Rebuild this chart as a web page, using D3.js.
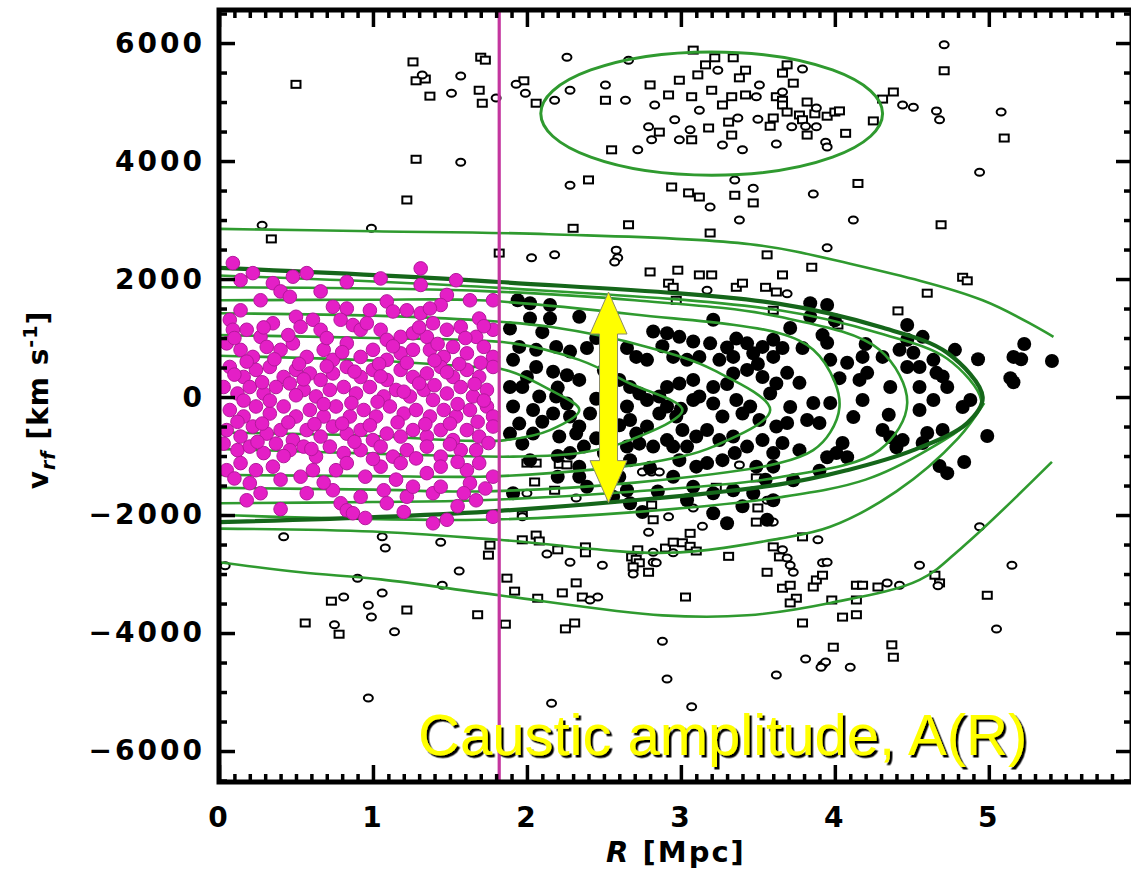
<!DOCTYPE html>
<html>
<head>
<meta charset="utf-8">
<script src="https://cdn.jsdelivr.net/npm/d3@7"></script>
<style>
  html, body { margin: 0; padding: 0; background: #fff; }
  svg { display: block; }
  .tick text { font-family: "DejaVu Sans", sans-serif; font-weight: bold; font-size: 28px; letter-spacing: 3px; fill: #000; }
  .tick line { stroke: #000; stroke-width: 3.5px; }
  .domain { display: none; }
</style>
</head>
<body>
<div id="chart"></div>
<script>
// ---- tick labels ----
const xTicks = [0, 1, 2, 3, 4, 5];
const yTicks = [-6000, -4000, -2000, 0, 2000, 4000, 6000];

// ---- annotations ----
const splitR = 1.82;                 // magenta vertical line
const arrowR = 2.53;                 // yellow double arrow position
const arrowV = [1780, -1790];
const labelText = 'Caustic amplitude, A(R)';
const ellipseCenter = [3.2, 4805];
const ellipseRadii = [1.11, 1045];

// ---- caustic curves [R, v] ----
const outerUpper = [[0,2850],[1.0,2810],[2.14,2760],[3.45,2590],[4.08,2270],[4.96,1640],[5.42,1020]];
const outerLower = [[0,-2800],[0.53,-2970],[1.05,-3090],[1.82,-3360],[2.88,-3700],[3.43,-3700],[3.97,-3490],[4.55,-3100],[4.83,-2540],[5.41,-1100]];
const causticThick = [[0,2190],[1.82,1950],[3.64,1580],[4.29,1190],[4.73,750],[4.96,0],[4.86,-440],[4.51,-900],[4.08,-1240],[3.64,-1480],[1.82,-1930],[0,-2120]];

// ---- density contours [R, v] ----
const contour1 = [[0,700],[1.0,620],[1.6,520],[1.86,460],[2.15,120],[2.34,-220],[2.15,-560],[1.86,-730],[1.6,-740],[1.0,-660],[0,-600]];
const contour2 = [[0,1050],[1.0,1000],[1.91,910],[2.34,630],[2.67,230],[3.01,-220],[2.67,-730],[2.34,-950],[1.91,-1010],[1.0,-960],[0,-880]];
const contour3 = [[0,1420],[1.0,1380],[1.69,1300],[2.15,1190],[2.78,850],[3.21,460],[3.58,-220],[3.21,-840],[2.78,-1120],[2.15,-1290],[1.69,-1350],[1.0,-1340],[0,-1320]];
const contour4 = [[0,1640],[1.0,1650],[1.69,1640],[2.7,1400],[3.64,1080],[3.86,800],[4.0,250],[4.03,-170],[3.97,-600],[3.86,-900],[3.64,-1120],[2.7,-1450],[1.69,-1600],[1.0,-1570],[0,-1540]];
const contour5 = [[0,1860],[1.0,1840],[1.69,1800],[2.7,1640],[3.64,1360],[4.29,800],[4.47,-100],[4.29,-900],[3.64,-1360],[2.7,-1600],[1.69,-1750],[1.0,-1780],[0,-1800]];
const contour6 = [[0,2060],[1.82,1850],[3.64,1470],[4.29,1080],[4.73,650],[4.95,-50],[4.9,-350],[4.6,-900],[4.2,-1400],[3.64,-1700],[2.7,-1950],[1.69,-2080],[0,-2000]];
const contour7 = [[0,-2230],[1.0,-2280],[1.82,-2420],[2.91,-2640],[3.64,-2400],[3.97,-2200],[4.4,-1600],[4.8,-700],[4.97,-100]];

// ---- members inside R < splitR (magenta) ----
const magentaPts = [
  [0.09,2270],[0.22,2100],[0.14,1980],[0.48,2040],[0.57,2100],[0.83,1950],[1.05,2010],[1.31,2180],[1.31,1900],[1.54,1980],[1.78,1640],[1.63,1640],[1.48,1730],[1.44,1560],[1.69,1330],
  [0.35,1930],[0.40,1790],[0.46,1700],[0.27,1640],[0.66,1790],[0.74,1530],[0.83,1500],[0.98,1470],[1.09,1620],[1.13,1450],[1.22,1470],[1.31,1420],[1.37,1500],
  [0.14,1470],[0.07,1310],[0.09,1140],[0.18,1140],[0.27,1020],[0.35,1250],[0.50,1360],[0.53,1190],[0.61,1310],[0.66,1140],[0.79,1310],[0.87,1220],[0.92,1140],[1.05,1140],[1.09,970],[1.18,1020],[1.26,1080],[1.35,1020],[1.39,1250],[1.48,1140],[1.57,1190],[1.67,1020],[1.78,1140],
  [0.05,910],[0.14,800],[0.22,680],[0.31,850],[0.40,800],[0.48,910],[0.57,680],[0.68,800],[0.74,630],[0.83,910],[0.92,680],[1.00,800],[1.09,630],[1.18,740],[1.26,800],[1.37,800],[1.46,680],[1.52,850],[1.61,740],[1.72,850],[1.78,680],
  [0.07,510],[0.16,340],[0.24,460],[0.33,510],[0.42,340],[0.50,460],[0.59,400],[0.66,290],[0.74,400],[0.83,510],[0.92,340],[1.00,460],[1.09,290],[1.18,460],[1.26,340],[1.35,400],[1.44,510],[1.52,340],[1.61,460],[1.69,340],[1.78,510],
  [0.03,170],[0.12,60],[0.20,170],[0.29,60],[0.37,170],[0.46,230],[0.55,120],[0.63,10],[0.72,120],[0.81,170],[0.89,60],[0.98,170],[1.07,10],[1.15,120],[1.24,10],[1.33,120],[1.39,-50],[1.48,60],[1.57,170],[1.65,10],[1.74,120],
  [0.07,-220],[0.16,-330],[0.24,-160],[0.33,-280],[0.42,-160],[0.50,-330],[0.59,-220],[0.68,-330],[0.76,-160],[0.85,-330],[0.94,-220],[1.02,-330],[1.11,-160],[1.20,-280],[1.28,-220],[1.37,-330],[1.46,-220],[1.54,-330],[1.63,-220],[1.74,-160],[1.78,-330],
  [0.05,-560],[0.14,-670],[0.22,-500],[0.31,-620],[0.40,-560],[0.48,-730],[0.57,-560],[0.66,-670],[0.74,-500],[0.83,-620],[0.92,-560],[1.00,-730],[1.09,-620],[1.18,-670],[1.26,-560],[1.35,-670],[1.44,-560],[1.52,-730],[1.61,-560],[1.69,-670],[1.78,-500],
  [0.03,-790],[0.12,-900],[0.20,-840],[0.29,-950],[0.37,-790],[0.46,-900],[0.55,-840],[0.63,-1010],[0.72,-840],[0.81,-950],[0.92,-900],[1.05,-840],[1.13,-1010],[1.22,-900],[1.35,-840],[1.44,-1010],[1.57,-900],[1.67,-900],
  [0.05,-1240],[0.14,-1120],[0.24,-1240],[0.35,-1180],[0.53,-1350],[0.61,-1240],[0.76,-1240],[0.83,-1120],[1.05,-1180],[1.18,-1120],[1.35,-1290],[1.44,-1180],[1.61,-1240],[1.69,-1120],[1.78,-1350],[1.63,-1460],
  [0.20,-1460],[0.27,-1630],[0.18,-1750],[0.57,-1630],[0.74,-1580],[0.79,-1800],[0.83,-1920],[0.92,-1690],[1.07,-1580],[1.09,-1800],[1.22,-1690],[1.26,-1520],[1.39,-1630],[1.44,-1520],[1.59,-1630],[1.67,-1750],
  [0.87,-1970],[1.39,-2140],[1.48,-2080],[1.78,-2030],
  [0.10,1000],[0.29,1180],[0.45,1050],[0.70,1000],[0.96,1250],[1.13,860],[1.30,1180],[1.42,900],[1.60,1000],[1.72,1200],
  [0.18,600],[0.36,640],[0.52,560],[0.80,760],[1.04,560],[1.22,580],[1.40,620],[1.56,560],[1.70,580],
  [0.10,380],[0.28,250],[0.55,300],[0.70,520],[0.88,430],[1.05,350],[1.30,230],[1.48,420],[1.66,220],
  [0.16,-60],[0.33,-60],[0.50,30],[0.68,-120],[0.86,-100],[1.03,-80],[1.20,90],[1.40,200],[1.55,-120],[1.72,-60],
  [0.12,-420],[0.28,-450],[0.45,-430],[0.62,-460],[0.80,-450],[0.98,-480],[1.16,-430],[1.34,-460],[1.50,-450],[1.68,-420],
  [0.25,-760],[0.42,-1000],[0.60,-880],[0.88,-760],[1.00,-1050],[1.28,-1040],[1.50,-800],[1.75,-780],
  [0.10,-1380],[0.40,-1400],[0.68,-1450],[0.95,-1350],[1.15,-1400],[1.55,-1100],[1.73,-1550],
  [0.40,-1900],[0.95,-2050],[1.20,-1950],[1.55,-1850]
];

// ---- members beyond splitR (filled black) ----
const blackPts = [
  [1.94,1640],[2.02,1590],[2.15,1560],[2.02,1330],[2.15,1330],[2.34,1360],[1.89,1160],[2.82,1110],[2.91,1080],[2.99,1020],[3.21,1310],[3.08,940],[3.19,910],[3.36,990],[3.43,910],[3.53,850],[3.60,970],
  [1.95,850],[2.06,800],[2.19,850],[2.28,770],[2.39,830],[2.65,830],[2.71,680],[2.78,630],[2.95,680],[3.04,630],[3.12,680],[3.25,630],[3.34,680],[3.47,740],[3.60,680],
  [1.91,630],[2.06,510],[2.17,430],[2.26,370],[2.34,290],[2.00,340],[2.60,290],[2.67,170],[2.73,60],[2.78,-50],[2.86,10],[2.91,170],[2.99,230],[3.08,290],[3.12,10],[3.21,170],[3.34,400],[3.43,460],[3.53,340],[3.62,230],
  [1.89,170],[1.97,170],[2.08,10],[2.19,10],[2.26,-110],[2.04,-220],[2.17,-280],[2.28,-330],[2.34,-500],[2.41,-280],[2.65,-160],[2.67,-390],[2.71,-620],[2.78,-500],[2.86,-280],[2.91,-160],[2.97,-330],[3.01,-560],[3.08,-50],[3.21,-110],[3.27,-330],[3.36,-50],[3.45,-160],[3.51,-390],[3.58,60],[3.62,-500],
  [1.91,-160],[1.95,-450],[1.89,-620],[1.97,-790],[2.04,-620],[2.21,-670],[2.32,-620],[2.37,-840],[2.28,-950],[2.65,-840],[2.73,-790],[2.82,-840],[2.91,-730],[2.95,-840],[3.04,-840],[3.10,-670],[3.17,-560],[3.25,-730],[3.34,-670],[3.43,-840],[3.53,-730],[3.60,-950],
  [2.02,-1070],[2.34,-1180],[2.67,-1070],[2.99,-1070],[3.10,-1180],[3.17,-1120],[3.27,-1070],[3.49,-1180],[3.60,-1180],[2.34,-1350],[2.39,-1520],[2.60,-1350],[2.65,-1580],[2.95,-1350],[3.08,-1520],[3.21,-1630],[3.34,-1580],[3.47,-1630],[1.91,-1630],[2.56,-1690],[2.67,-1800],[3.04,-1750],[3.21,-1970],[3.30,-2140],[3.60,-1750],[3.56,-2080],
  [3.84,1590],[3.95,1560],[3.84,1360],[3.71,1170],[3.92,1050],[3.95,920],[4.47,1220],[4.57,1020],[4.47,970],[4.78,800],[4.93,640],[3.66,830],[3.79,830],[3.97,630],[4.08,580],[4.18,680],[4.31,680],
  [4.42,800],[4.51,750],[4.55,510],[4.47,510],[4.64,630],[4.66,410],[3.69,410],[3.77,240],[4.03,320],[4.16,290],[4.21,410],[4.55,170],[4.73,170],[4.36,170],[4.64,-50],[4.55,-220],[4.83,-170],[4.88,-50],
  [3.86,-100],[3.97,-100],[3.71,-170],[4.18,-50],[4.12,-340],[3.69,-440],[3.82,-390],[3.90,-440],[4.31,-560],[4.40,-850],[4.36,-680],[4.44,-730],[4.60,-610],[4.57,-780],[4.70,-560],
  [3.66,-780],[3.77,-900],[3.95,-1020],[4.05,-780],[4.01,-950],[4.08,-1020],[3.73,-1410],
  [5.23,900],[5.16,680],[5.21,640],[5.16,250],[5.14,320],[5.41,610],[4.99,-660],[4.84,-1100],[4.73,-1290],[4.68,-1170],
  [2.10,1100],[2.45,1000],[2.52,600],[2.88,860],[3.30,840],[3.50,560],[2.50,450],[2.20,160],[2.45,-30],[2.60,-480],[2.45,-700],[3.00,-200],[3.40,-280],[3.30,220],[2.10,-420],
  [2.20,-1000],[2.50,-950],[2.80,-1200],[3.35,-950],[3.55,-1400],[2.20,-1350],[2.85,-1600],[3.40,-1850],[2.75,-1950],
  [4.20,900],[4.00,1300],[4.35,-300],[4.70,350],[3.90,-1250]
];

// ---- galaxies outside the caustics (open symbols: s = square, c = circle) ----
const openPts = [
  [0.50,5300,'s'],[1.26,5680,'s'],[1.28,5360,'s'],[1.32,5460,'c'],[1.34,5390,'s'],[1.37,5100,'s'],[1.51,5150,'c'],[1.57,5440,'c'],[1.70,5760,'s'],[1.73,5710,'s'],[1.69,5200,'s'],[1.71,4980,'s'],[1.28,4030,'s'],[1.57,3980,'c'],[1.22,3340,'s'],[0.28,2910,'c'],[0.34,2680,'s'],[0.99,2860,'c'],[1.80,5070,'c'],[1.93,5300,'c'],[1.98,5360,'s'],[1.99,5150,'c'],[2.06,4980,'s'],[1.82,2440,'s'],
  [2.26,5760,'c'],[3.08,5880,'s'],
  [3.69,5630,'s'],[3.66,5490,'s'],[3.79,5560,'c'],[3.73,5320,'s'],[3.51,5290,'c'],[3.49,5090,'c'],[3.62,5090,'s'],[3.66,5170,'c'],[3.66,5030,'s'],[3.66,4950,'s'],[3.69,4830,'s'],[3.82,5000,'s'],[3.88,4900,'c'],[3.87,4800,'s'],[3.50,4710,'c'],[3.60,4730,'s'],[3.58,4590,'s'],[3.77,4780,'s'],[3.79,4700,'s'],[3.72,4580,'c'],[3.81,4590,'c'],[3.88,4580,'c'],[3.95,4760,'s'],[4.00,4830,'s'],[4.03,4850,'s'],[3.82,4440,'s'],[3.62,4290,'c'],[3.94,4320,'c'],[3.95,4240,'c'],[4.07,4470,'s'],[4.25,4680,'s'],
  [2.18,5030,'c'],[2.28,5200,'c'],[2.51,5290,'c'],[2.66,5710,'c'],[2.51,5030,'s'],[2.64,5030,'c'],[2.80,5290,'s'],[2.83,4950,'c'],[2.96,4700,'c'],[2.99,5370,'s'],[3.07,5090,'s'],[3.12,4860,'c'],[3.20,5200,'s'],[3.27,4950,'s'],[3.06,4530,'c'],[3.18,4560,'s'],[3.31,4660,'s'],[3.37,4730,'c'],[3.42,5540,'s'],[3.38,5410,'s'],[3.34,5750,'s'],[3.16,5630,'s'],[3.11,5460,'s'],[2.99,4360,'c'],[3.07,4360,'s'],[2.72,4190,'c'],[2.55,4190,'s'],[2.79,4580,'c'],[2.86,4490,'s'],[3.33,4440,'s'],[3.40,4190,'c'],[3.27,4270,'c'],[3.42,5120,'s'],[3.33,5090,'s'],[3.24,5540,'c'],[3.22,5750,'s'],[2.81,4360,'c'],[2.92,5120,'s'],
  [4.71,5970,'c'],[4.71,5530,'s'],[4.38,5170,'s'],[4.31,5050,'s'],[4.44,4950,'c'],[4.51,4910,'c'],[4.66,4850,'c'],[4.68,4700,'c'],[5.08,4830,'c'],[5.10,4390,'s'],[4.94,3810,'c'],[4.15,3620,'s'],[3.86,3440,'c'],[3.47,3540,'c'],[3.47,3290,'s'],[4.12,3000,'c'],[4.69,2920,'s'],[3.95,2530,'c'],[3.56,2410,'s'],[3.85,2200,'s'],[3.66,2070,'s'],[3.55,1860,'s'],[3.62,1780,'s'],[3.69,1750,'c'],[4.83,2030,'s'],[4.86,1970,'s'],[4.60,1760,'s'],[4.41,1460,'s'],[4.02,1220,'s'],
  [2.28,3590,'c'],[2.40,3680,'s'],[2.94,3560,'s'],[3.05,3460,'s'],[3.12,3390,'s'],[3.19,3220,'c'],[3.35,3680,'c'],[3.35,3420,'s'],[3.38,3000,'c'],[2.66,2920,'s'],[2.30,2860,'s'],[3.19,2780,'s'],[2.59,2360,'c'],[2.80,2120,'s'],[2.92,1930,'s'],[2.98,2150,'s'],[3.12,2070,'s'],[3.20,2070,'s'],[2.03,2360,'c'],[2.18,2410,'c'],[2.57,2290,'c'],[2.95,1860,'s'],[2.97,1640,'s'],[3.17,1810,'c'],[3.36,1860,'s'],[3.40,1930,'s'],[3.60,1470,'s'],[2.58,2490,'c'],
  [0.73,-3460,'s'],[0.81,-3390,'c'],[0.97,-3530,'c'],[1.06,-3320,'c'],[0.99,-3730,'c'],[0.56,-3830,'s'],[0.75,-3860,'c'],[0.78,-4020,'s'],[1.14,-3980,'c'],[0.97,-5100,'c'],[0.42,-2370,'c'],[1.06,-2370,'c'],[1.08,-2560,'c'],[1.44,-2460,'c'],[1.76,-2510,'s'],[1.75,-2680,'s'],[1.56,-2950,'c'],[1.45,-3190,'c'],[0.90,-3070,'c'],[1.22,-3610,'s'],[1.68,-3690,'s'],[0.04,-2860,'c'],
  [1.86,-3850,'s'],[1.92,-3290,'s'],[2.07,-3410,'s'],[2.23,-3320,'s'],[2.32,-3150,'s'],[2.36,-3390,'s'],[2.41,-3440,'c'],[2.46,-3390,'c'],[2.25,-3930,'s'],[2.31,-3830,'s'],[3.03,-3390,'s'],[2.88,-4140,'c'],[2.91,-4780,'c'],[2.16,-5190,'c'],[3.07,-5250,'c'],[3.62,-4710,'c'],
  [1.97,-2000,'s'],[2.82,-2080,'s'],[2.79,-2290,'c'],[3.06,-2310,'s'],[3.14,-2190,'c'],[3.49,-2120,'s'],[3.59,-2120,'c'],[1.87,-3070,'s'],[2.06,-2340,'s'],[2.08,-2440,'s'],[1.97,-2420,'s'],[2.13,-2660,'c'],[2.20,-2590,'s'],[2.28,-2800,'c'],[2.38,-2540,'s'],[2.38,-2640,'s'],[2.49,-2850,'c'],[2.68,-2710,'s'],[2.71,-2750,'s'],[2.73,-2810,'s'],[2.69,-2880,'s'],[2.69,-3000,'c'],[2.79,-2970,'s'],[2.72,-2590,'s'],[2.82,-2630,'c'],[2.90,-2560,'s'],[2.95,-2460,'s'],[3.01,-2470,'s'],[3.06,-2530,'s'],[3.10,-2610,'s'],[2.82,-2800,'c'],[2.84,-2810,'c'],[2.95,-2640,'c'],[3.31,-2700,'s'],[3.56,-2970,'s'],[3.79,-2370,'s'],[3.89,-2420,'c'],[3.60,-2540,'s'],[3.66,-2590,'c'],[3.69,-2730,'c'],[3.71,-2850,'c'],[3.73,-2970,'c'],[3.64,-2710,'s'],[3.66,-3240,'s'],[3.71,-3190,'s'],[3.75,-3410,'s'],[3.71,-3490,'s'],[3.79,-3830,'s'],[3.86,-3220,'s'],[3.88,-3100,'s'],[3.92,-3020,'s'],[3.92,-2810,'c'],[3.95,-2800,'c'],[3.81,-4440,'c'],[3.92,-4540,'c'],[3.94,-4490,'c'],
  [3.98,-3440,'s'],[4.14,-3190,'s'],[4.18,-3190,'s'],[4.28,-3220,'s'],[4.34,-3150,'c'],[4.42,-3190,'c'],[4.14,-3440,'s'],[4.05,-3730,'s'],[4.14,-3690,'s'],[3.99,-4240,'s'],[3.91,-4580,'c'],[4.10,-4580,'c'],[4.37,-4200,'s'],[4.38,-4410,'s'],[4.67,-3200,'c'],[4.99,-3360,'s'],[5.05,-3930,'c'],[4.94,-2200,'c'],[5.15,-2850,'c'],[4.65,-3020,'s'],[4.68,-3150,'s'],[4.55,-2850,'c'],
  [2.06,-1120,'s'],[2.00,-1120,'s'],[2.21,-1140,'s'],[2.26,-1150,'s'],[2.05,-1440,'s'],[2.18,-1580,'s'],[2.32,-1710,'c'],[2.00,-1630,'c'],[1.97,-2030,'c'],[2.75,-1270,'c'],[2.81,-1270,'c'],[2.86,-1270,'c'],[2.92,-2030,'c'],[2.81,-1830,'s'],[3.08,-1880,'c'],[3.23,-1530,'s'],[3.38,-1150,'c'],[3.49,-1370,'s'],[3.50,-1880,'s'],[3.56,-1750,'c'],[3.60,-2120,'c']
];

const W = 1131, H = 872;
const margin = { top: 10, right: -1, bottom: 90, left: 219 };

const x = d3.scaleLinear().domain([0, 5.93]).range([margin.left, W - margin.right]);
const y = d3.scaleLinear().domain([-6525, 6560]).range([H - margin.bottom, margin.top]);

const svg = d3.select('#chart').append('svg')
  .attr('width', W).attr('height', H)
  .style('background', '#fff');

const defs = svg.append('defs');
defs.append('clipPath').attr('id', 'plot-clip')
  .append('rect')
  .attr('x', x(0)).attr('y', y(6560))
  .attr('width', x(5.93) - x(0)).attr('height', y(-6525) - y(6560));
defs.append('filter').attr('id', 'shadow')
  .attr('x', '-5%').attr('y', '-20%').attr('width', '110%').attr('height', '140%')
  .append('feDropShadow')
  .attr('dx', 2.5).attr('dy', 2.5).attr('stdDeviation', 0.4)
  .attr('flood-color', '#000').attr('flood-opacity', 1);

const plot = svg.append('g').attr('clip-path', 'url(#plot-clip)');

// open symbols (background galaxies)
plot.append('g').selectAll('rect')
  .data(openPts.filter(d => d[2] === 's'))
  .join('rect')
  .attr('x', d => x(d[0]) - 4.5).attr('y', d => y(d[1]) - 3.5)
  .attr('width', 9).attr('height', 7)
  .attr('fill', '#fff').attr('stroke', '#000').attr('stroke-width', 2);

plot.append('g').selectAll('ellipse')
  .data(openPts.filter(d => d[2] === 'c'))
  .join('ellipse')
  .attr('cx', d => x(d[0])).attr('cy', d => y(d[1]))
  .attr('rx', 4.5).attr('ry', 3.5)
  .attr('fill', '#fff').attr('stroke', '#000').attr('stroke-width', 2);

// filled members beyond splitR
plot.append('g').selectAll('circle')
  .data(blackPts)
  .join('circle')
  .attr('cx', d => x(d[0])).attr('cy', d => y(d[1]))
  .attr('r', 7).attr('fill', '#000');

// contours and caustics
const line = d3.line()
  .x(d => x(d[0])).y(d => y(d[1]))
  .curve(d3.curveCatmullRom.alpha(0.5));

const thinGreen = '#2f9a2f';
const darkGreen = '#15661a';

[contour1, contour2, contour3, contour4, contour5, contour6, contour7, outerUpper, outerLower]
  .forEach(c => {
    plot.append('path').datum(c)
      .attr('d', line)
      .attr('fill', 'none')
      .attr('stroke', thinGreen)
      .attr('stroke-width', 2.6);
  });

plot.append('path').datum(causticThick)
  .attr('d', line)
  .attr('fill', 'none')
  .attr('stroke', darkGreen)
  .attr('stroke-width', 4.2);

plot.append('ellipse')
  .attr('cx', x(ellipseCenter[0])).attr('cy', y(ellipseCenter[1]))
  .attr('rx', x(ellipseRadii[0]) - x(0)).attr('ry', y(0) - y(ellipseRadii[1]))
  .attr('fill', 'none').attr('stroke', thinGreen).attr('stroke-width', 3);

// magenta members inside splitR
plot.append('g').selectAll('circle')
  .data(magentaPts)
  .join('circle')
  .attr('cx', d => x(d[0])).attr('cy', d => y(d[1]))
  .attr('r', 6.8)
  .attr('fill', '#e41fc6').attr('stroke', '#b3189b').attr('stroke-width', 1);

// magenta split line
svg.append('line')
  .attr('x1', x(splitR)).attr('x2', x(splitR))
  .attr('y1', y(6560)).attr('y2', y(-6525))
  .attr('stroke', '#c4369f').attr('stroke-width', 3.2);

// axes: major + minor ticks on all four sides
const y0 = y(-6525), yTop = y(6560), xLeft = x(0), xRight = x(5.93);
const xMinor = d3.range(0, 59).map(i => i / 10).filter(v => !xTicks.includes(v));
const yMinor = d3.range(-6500, 6501, 500).filter(v => !yTicks.includes(v));

svg.append('g').attr('transform', `translate(0,${y0})`)
  .call(d3.axisBottom(x).tickValues(xMinor).tickSizeInner(-8).tickSizeOuter(0).tickFormat(''));
svg.append('g').attr('transform', `translate(0,${y0})`)
  .call(d3.axisBottom(x).tickValues(xTicks).tickSizeInner(-17).tickSizeOuter(0).tickPadding(25).tickFormat(d3.format('d')));

svg.append('g').attr('transform', `translate(0,${yTop})`)
  .call(d3.axisTop(x).tickValues(xMinor).tickSizeInner(-8).tickSizeOuter(0).tickFormat(''));
svg.append('g').attr('transform', `translate(0,${yTop})`)
  .call(d3.axisTop(x).tickValues(xTicks).tickSizeInner(-17).tickSizeOuter(0).tickFormat(''));

svg.append('g').attr('transform', `translate(${xLeft},0)`)
  .call(d3.axisLeft(y).tickValues(yMinor).tickSizeInner(-8).tickSizeOuter(0).tickFormat(''));
svg.append('g').attr('transform', `translate(${xLeft},0)`)
  .call(d3.axisLeft(y).tickValues(yTicks).tickSizeInner(-16).tickSizeOuter(0).tickPadding(14).tickFormat(d3.format('d')));

svg.append('g').attr('transform', `translate(${xRight},0)`)
  .call(d3.axisRight(y).tickValues(yMinor).tickSizeInner(-8).tickSizeOuter(0).tickFormat(''));
svg.append('g').attr('transform', `translate(${xRight},0)`)
  .call(d3.axisRight(y).tickValues(yTicks).tickSizeInner(-16).tickSizeOuter(0).tickFormat(''));

// frame
svg.append('rect')
  .attr('x', xLeft).attr('y', yTop)
  .attr('width', xRight - xLeft).attr('height', y0 - yTop)
  .attr('fill', 'none').attr('stroke', '#000').attr('stroke-width', 5);

// axis titles
const xTitle = svg.append('text')
  .attr('x', 676).attr('y', 862)
  .attr('text-anchor', 'middle')
  .style('font-family', '"DejaVu Sans", sans-serif')
  .style('font-weight', 'bold').style('font-size', '29px')
  .style('letter-spacing', '2px');
xTitle.append('tspan').style('font-style', 'italic').text('R');
xTitle.append('tspan').text(' [Mpc]');

const yTitle = svg.append('text')
  .attr('transform', 'translate(48,400) rotate(-90)')
  .attr('text-anchor', 'middle')
  .style('font-family', '"DejaVu Sans", sans-serif')
  .style('font-weight', 'bold').style('font-size', '28px')
  .style('letter-spacing', '1px');
yTitle.append('tspan').text('v');
yTitle.append('tspan').attr('dy', 7).style('font-size', '19px').style('font-style', 'italic').text('rf');
yTitle.append('tspan').attr('dy', -7).text(' [km s');
yTitle.append('tspan').attr('dy', -11).style('font-size', '19px').text('-1');
yTitle.append('tspan').attr('dy', 11).text(']');

// yellow double arrow
const ax = x(arrowR), at = y(arrowV[0]), ab = y(arrowV[1]);
const hw = 18.5, sw = 9, hh = 42;
const arrowPts = [
  [ax, at], [ax + hw, at + hh], [ax + sw, at + hh], [ax + sw, ab - hh], [ax + hw, ab - hh],
  [ax, ab], [ax - hw, ab - hh], [ax - sw, ab - hh], [ax - sw, at + hh], [ax - hw, at + hh]
];
svg.append('polygon')
  .attr('points', arrowPts.map(p => p.join(',')).join(' '))
  .attr('fill', '#ffff00').attr('stroke', '#8a8a6a').attr('stroke-width', 1);

// caption with drop shadow
svg.append('text')
  .attr('x', 418).attr('y', 755)
  .attr('filter', 'url(#shadow)')
  .style('font-family', '"Liberation Sans", Arial, sans-serif')
  .style('font-size', '58px').attr('fill', '#ffff00')
  .text(labelText);
</script>
</body>
</html>
